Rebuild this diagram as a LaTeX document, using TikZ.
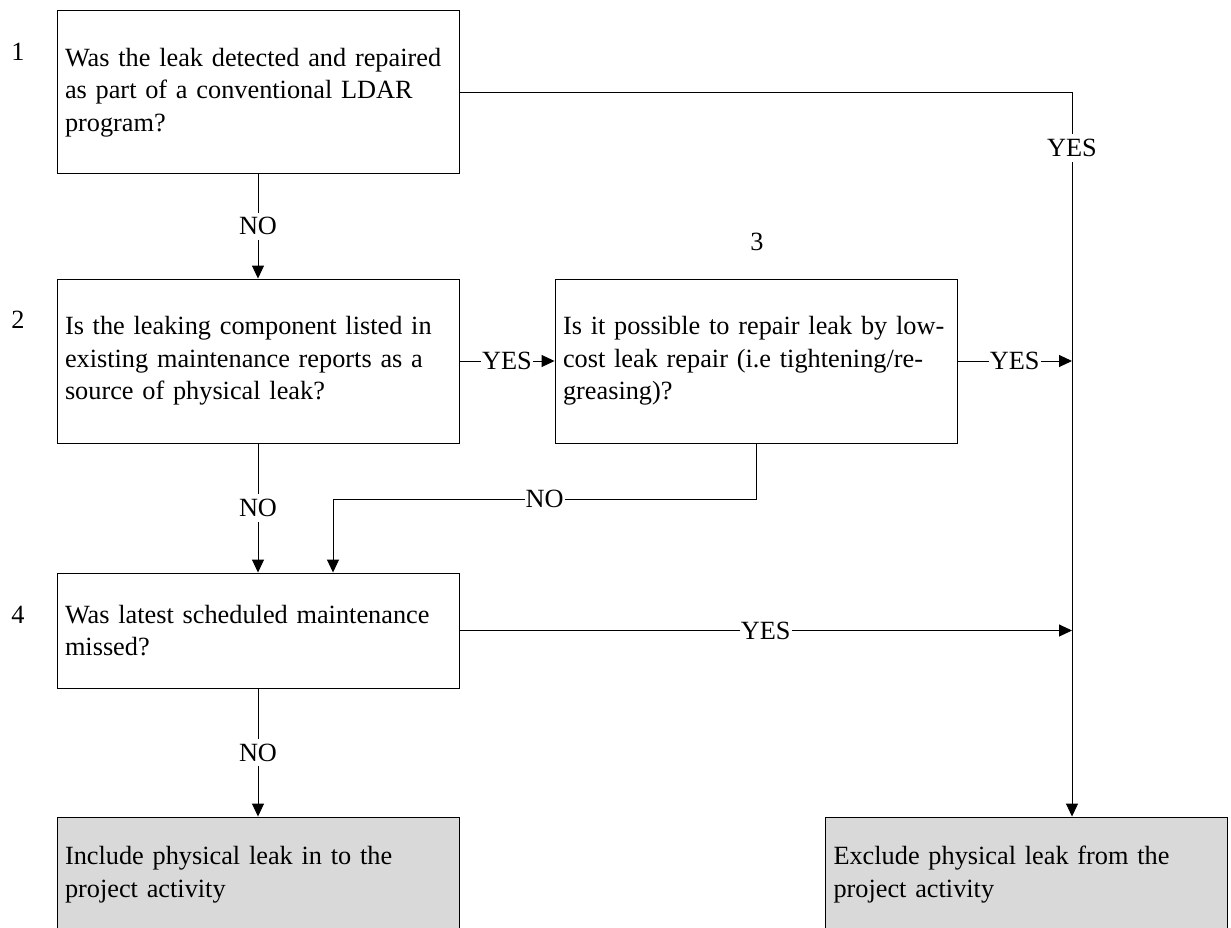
\documentclass[tikz,border=0pt]{standalone}
\usepackage{fontspec}
\setmainfont{Liberation Serif}
\usetikzlibrary{arrows.meta}

\begin{document}
\begin{tikzpicture}[x=1pt,y=1pt,yscale=-1,xscale=1,
  font=\fontsize{26.3}{32.5}\selectfont,
  qbox/.style={draw, line width=0.9pt, minimum width=402pt, text width=386pt,
    inner xsep=8pt, align=left},
  endbox/.style={qbox, fill=black!15},
  arrowline/.style={line width=0.9pt, -{Triangle[length=13pt,width=12pt]}},
  plainline/.style={line width=0.9pt},
  lbl/.style={fill=white, inner xsep=1pt, inner ysep=5pt},
  num/.style={inner sep=0pt}]
\useasboundingbox (0,0) rectangle (1231,928);

% question boxes
\node[qbox, minimum height=163pt] (q1) at (258,92.3) {Was the leak detected and repaired\\as part of a conventional LDAR\\program?};
\node[qbox, minimum height=164pt] (q2) at (258,361) {Is the leaking component listed in\\existing maintenance reports as a\\source of physical leak?};
\node[qbox, minimum height=164pt] (q3) at (756,361) {Is it possible to repair leak by low-\\cost leak repair (i.e tightening/re-\\greasing)?};
\node[qbox, minimum height=115pt] (q4) at (258,630.5) {Was latest scheduled maintenance\\missed?};

% outcome boxes
\node[endbox, minimum height=115pt] (inc) at (258,874.5) {Include physical leak in to the\\project activity};
\node[endbox, minimum height=115pt] (exc) at (1026.5,874.5) {Exclude physical leak from the\\project activity};

% step numbers
\node[num] (n1) at (18,52) {1};
\node[num] (n2) at (18,320) {2};
\node[num] (n3) at (757,242) {3};
\node[num] (n4) at (18,615) {4};

\coordinate (trunk) at (1072,92.3);
\coordinate (drop) at (333,499);

% connectors
\draw[arrowline] (q1.east) -- (trunk) -- node[lbl, pos=0.077]{YES} (trunk |- exc.north);
\draw[arrowline] (q1) -- node[lbl]{NO} (q2);
\draw[arrowline] (q2) -- node[lbl]{YES} (q3);
\draw[arrowline] (q3.east) -- node[lbl]{YES} (q3.east -| trunk);
\draw[arrowline] (q2) -- node[lbl]{NO} (q4);
\draw[arrowline] (q3.south) |- node[lbl, pos=0.75]{NO} (drop) -- (drop |- q4.north);
\draw[arrowline] (q4.east) -- node[lbl]{YES} (q4.east -| trunk);
\draw[arrowline] (q4) -- node[lbl]{NO} (inc);

\end{tikzpicture}
\end{document}
